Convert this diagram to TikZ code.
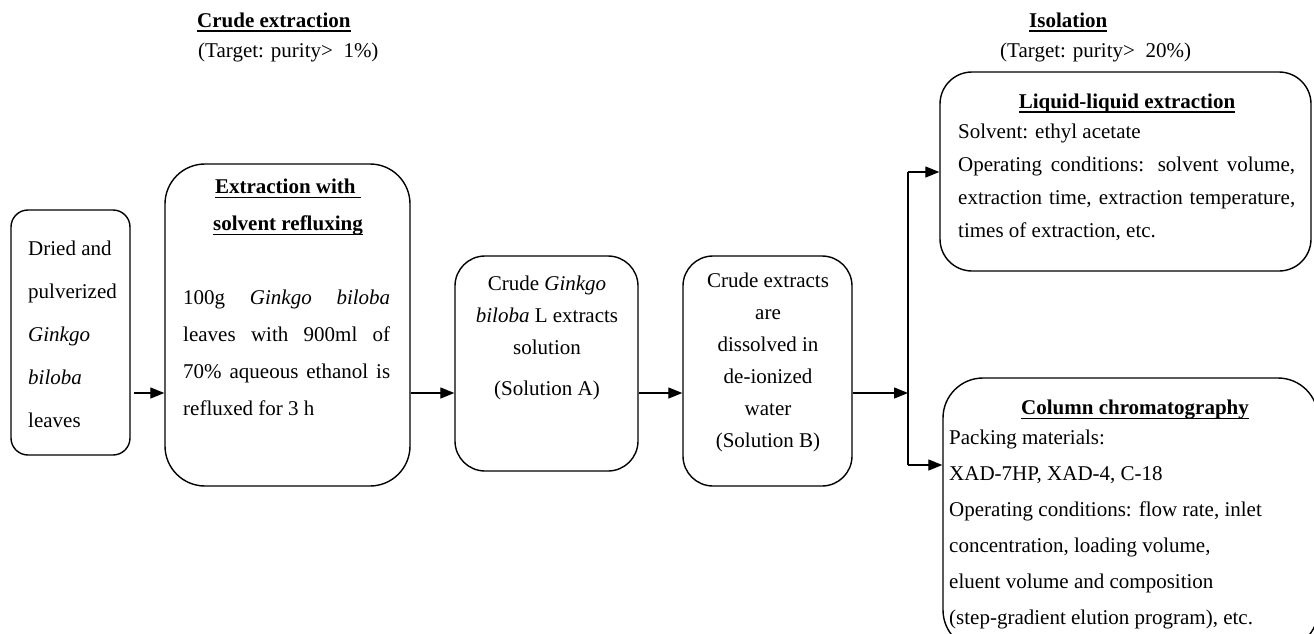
\documentclass[tikz,border=0pt]{standalone}
\usepackage{fontspec}
\setmainfont{Liberation Serif}
\usetikzlibrary{arrows.meta}
\newcommand\uln[1]{\setbox0\hbox{#1}\rlap{\rule[-4.5pt]{\wd0}{1.3pt}}\box0}
\newcommand\jline[2]{\makebox[#1][s]{#2}}
\begin{document}
\begin{tikzpicture}[x=1pt,y=-1pt,
  box/.style={draw, line width=1.4pt, inner sep=0pt},
  txt/.style={inner sep=0pt, font=\fontsize{21}{#1}\selectfont},
  txt/.default=32,
  arr/.style={line width=1.3pt, -{Triangle[length=14pt,width=11pt]}}]
\useasboundingbox (0,0) rectangle (1314,634);
\clip (0,0) rectangle (1314,634);

% headings
\node[txt, anchor=west] (h1) at (197,22) {\bfseries\uln{Crude extraction}};
\node[txt, anchor=west] (h2) at (198,52) {(Target: purity>~ 1\%)};
\node[txt, anchor=west] (h3) at (1029,22) {\bfseries\uln{Isolation}};
\node[txt, anchor=west] (h4) at (1000,52) {(Target: purity>~ 20\%)};

% boxes
\node[box, rounded corners=17pt, minimum width=119pt, minimum height=245pt] (box1) at (70.5,332.5) {};
\node[box, rounded corners=40pt, minimum width=245pt, minimum height=322pt] (box2) at (287.5,325) {};
\node[box, rounded corners=30pt, minimum width=183pt, minimum height=215pt] (box3) at (546.5,363.5) {};
\node[box, rounded corners=30pt, minimum width=169pt, minimum height=230pt] (box4) at (767.5,371) {};
\node[box, rounded corners=32pt, minimum width=371pt, minimum height=199pt] (box5) at (1125.5,171.5) {};
\node[box, rounded corners=40pt, minimum width=375pt, minimum height=272pt] (box6) at (1130.5,514) {};

% texts
\node[txt=43, align=left, anchor=west] (t1) at (28,334)
  {Dried and\\pulverized\\\textit{Ginkgo}\\\textit{biloba}\\leaves};
\node[txt=37, align=center] (t2a) at (288,207)
  {\bfseries\uln{Extraction with\ }\\\bfseries\uln{solvent refluxing}};
\node[txt=37, align=left, anchor=west] (t2b) at (183,353)
  {\jline{207pt}{100g \textit{Ginkgo biloba}}\\
   \jline{207pt}{leaves with 900ml of}\\
   \jline{207pt}{70\% aqueous ethanol is}\\
   refluxed for 3 h};
\node[txt=32, align=center] (t3) at (547,338)
  {Crude \textit{Ginkgo}\\\textit{biloba} L extracts\\solution\\[9pt](Solution A)};
\node[txt=32, align=center] (t4) at (768,362)
  {Crude extracts\\are\\dissolved in\\de-ionized\\water\\(Solution B)};
\node[txt] (t5a) at (1127,103) {\bfseries\uln{Liquid-liquid extraction}};
\node[txt=33, align=left, anchor=west] (t5b) at (958,182)
  {Solvent: ethyl acetate\\
   \jline{337pt}{Operating conditions: solvent volume,}\\
   \jline{337pt}{extraction time, extraction temperature,}\\
   times of extraction, etc.};
\node[txt] (t6a) at (1135,410) {\bfseries\uln{Column chromatography}};
\node[txt=36, align=left, anchor=west] (t6b) at (949,529)
  {Packing materials:\\
   XAD-7HP, XAD-4, C-18\\
   Operating conditions: flow rate, inlet\\
   concentration, loading volume,\\
   eluent volume and composition\\
   (step-gradient elution program), etc.};

% connectors
\coordinate (m) at (0,393);
\coordinate (j) at (908,393);
\coordinate (jt) at (908,172);
\coordinate (jb) at (908,465);
\draw[arr, shorten <=3pt] (box1.east |- m) -- (box2.west |- m);
\draw[arr] (box2.east |- m) -- (box3.west |- m);
\draw[arr] (box3.east |- m) -- (box4.west |- m);
\draw[arr] (box4.east |- m) -- (j);
\draw[line width=1.3pt] (jt) -- (jb);
\draw[arr] (jt) -- (box5.west |- jt);
\draw[arr] (jb) -- (box6.west |- jb);
\end{tikzpicture}
\end{document}
